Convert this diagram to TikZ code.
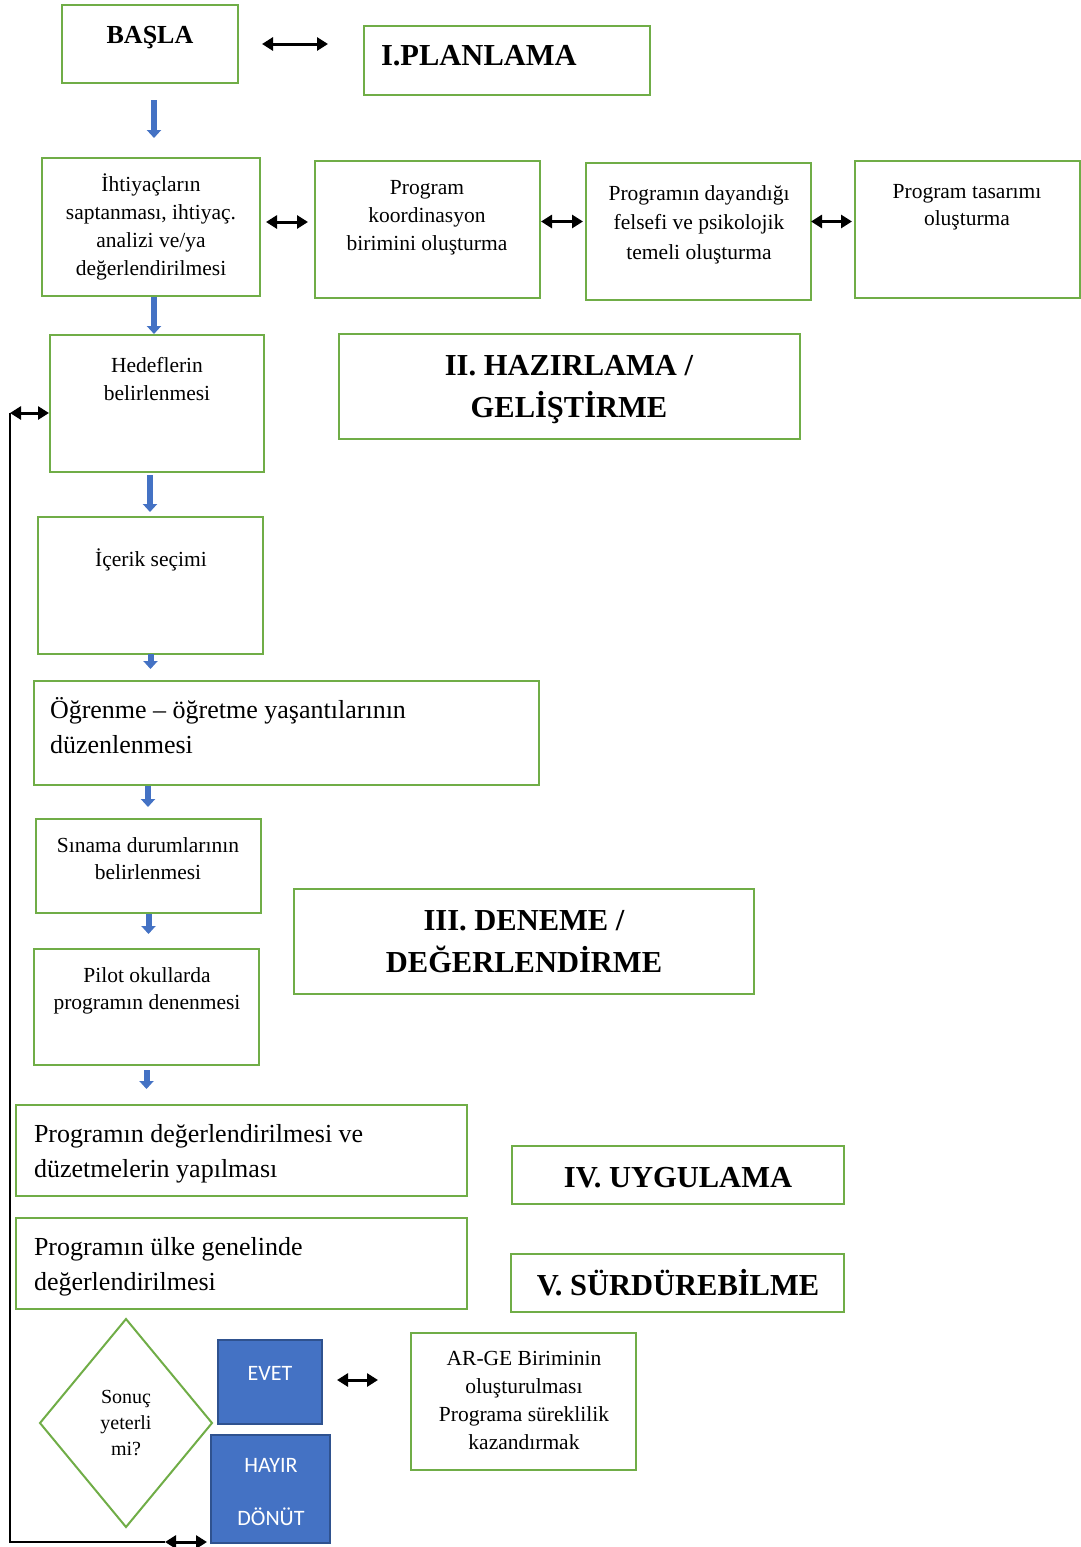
\documentclass[tikz,border=0pt]{standalone}
\usepackage{fontspec}
\setmainfont{Liberation Serif}
\newfontfamily\calibrifont{Carlito}
\usetikzlibrary{arrows.meta,shapes.geometric}
\definecolor{grn}{HTML}{70AD47}
\definecolor{bfill}{HTML}{4472C4}
\definecolor{bdraw}{HTML}{2F528F}
\tikzset{
  box/.style={draw=grn, line width=2pt, inner sep=0pt, outer sep=0pt},
  bluebox/.style={draw=bdraw, fill=bfill, line width=2pt, inner sep=0pt, outer sep=0pt},
  txt/.style={inner sep=0pt, outer sep=0pt, align=center, font=\fontsize{21.5}{28}\selectfont},
  bigtxt/.style={inner sep=0pt, outer sep=0pt, align=left, font=\fontsize{26}{35}\selectfont},
  ttl/.style={inner sep=0pt, outer sep=0pt, align=center, font=\bfseries\fontsize{30.5}{42}\selectfont},
  wtxt/.style={inner sep=0pt, outer sep=0pt, text=white, font=\calibrifont\fontsize{22}{25}\selectfont},
  barrow/.style={draw=bfill, line width=6pt, -{Triangle[width=14pt,length=8pt]}},
  dbl/.style={draw=black, line width=3pt, {Triangle[width=13pt,length=11pt]}-{Triangle[width=13pt,length=11pt]}},
}
\begin{document}
\begin{tikzpicture}[x=1pt,y=-1pt]
\useasboundingbox (0,0) rectangle (1081,1547);

% boxes
\node[box, minimum width=176, minimum height=78] (basla) at (150,44) {};
\node[box, minimum width=286, minimum height=69] (planlama) at (507,60.5) {};
\node[box, minimum width=218, minimum height=138] (ihtiyac) at (151,227) {};
\node[box, minimum width=225, minimum height=137] (koord) at (427.5,229.5) {};
\node[box, minimum width=225, minimum height=137] (dayan) at (698.5,231.5) {};
\node[box, minimum width=225, minimum height=137] (tasarim) at (967.5,229.5) {};
\node[box, minimum width=214, minimum height=137] (hedef) at (157,403.5) {};
\node[box, minimum width=461, minimum height=105] (hazirlama) at (569.5,386.5) {};
\node[box, minimum width=225, minimum height=137] (icerik) at (150.5,585.5) {};
\node[box, minimum width=505, minimum height=104] (ogrenme) at (286.5,733) {};
\node[box, minimum width=225, minimum height=94] (sinama) at (148.5,866) {};
\node[box, minimum width=460, minimum height=105] (deneme) at (524,941.5) {};
\node[box, minimum width=225, minimum height=116] (pilot) at (146.5,1007) {};
\node[box, minimum width=451, minimum height=91] (degerl) at (241.5,1150.5) {};
\node[box, minimum width=332, minimum height=58] (uygulama) at (678,1175) {};
\node[box, minimum width=451, minimum height=91] (ulke) at (241.5,1263.5) {};
\node[box, minimum width=333, minimum height=58] (surdur) at (677.5,1283) {};
\node[box, diamond, minimum width=172, minimum height=208] (karar) at (126,1423) {};
\node[bluebox, minimum width=104, minimum height=84] (evet) at (270,1382) {};
\node[bluebox, minimum width=119, minimum height=108] (hayir) at (270.5,1489) {};
\node[box, minimum width=225, minimum height=137] (arge) at (523.5,1401.5) {};

% texts (multi-line nodes: base anchor = baseline of the last line)
\node[inner sep=0pt, font=\bfseries\fontsize{26}{30}\selectfont, anchor=base] (basla-t) at (150,43) {BAŞLA};
\node[ttl, anchor=base west] (planlama-t) at (381,65) {I.PLANLAMA};
\node[txt, anchor=base] (ihtiyac-t) at (151,275) {İhtiyaçların\\saptanması, ihtiyaç.\\analizi ve/ya\\değerlendirilmesi};
\node[txt, anchor=base] (koord-t) at (427,250) {Program\\koordinasyon\\birimini oluşturma};
\node[txt, anchor=base, font=\fontsize{21.5}{29.5}\selectfont] (dayan-t) at (699,259) {Programın dayandığı\\felsefi ve psikolojik\\temeli oluşturma};
\node[txt, anchor=base, font=\fontsize{21.5}{27}\selectfont] (tasarim-t) at (967,225) {Program tasarımı\\oluşturma};
\node[txt, anchor=base] (hedef-t) at (157,400) {Hedeflerin\\belirlenmesi};
\node[ttl, anchor=base] (hazirlama-t) at (569,417) {II. HAZIRLAMA /\\GELİŞTİRME};
\node[txt, anchor=base] (icerik-t) at (151,566) {İçerik seçimi};
\node[bigtxt, anchor=base west] (ogrenme-t) at (50,753) {Öğrenme – öğretme yaşantılarının\\düzenlenmesi};
\node[txt, anchor=base, font=\fontsize{21.5}{27}\selectfont] (sinama-t) at (148,879) {Sınama durumlarının\\belirlenmesi};
\node[ttl, anchor=base] (deneme-t) at (524,972) {III. DENEME /\\DEĞERLENDİRME};
\node[txt, anchor=base, font=\fontsize{21.5}{27}\selectfont] (pilot-t) at (147,1009) {Pilot okullarda\\programın denenmesi};
\node[bigtxt, anchor=base west] (degerl-t) at (34,1177) {Programın değerlendirilmesi ve\\düzetmelerin yapılması};
\node[ttl, anchor=base] (uygulama-t) at (678,1187) {IV. UYGULAMA};
\node[bigtxt, anchor=base west] (ulke-t) at (34,1290) {Programın ülke genelinde\\değerlendirilmesi};
\node[ttl, anchor=base] (surdur-t) at (678,1295) {V. SÜRDÜREBİLME};
\node[txt, anchor=base, font=\fontsize{20}{26}\selectfont] (karar-t) at (126,1455) {Sonuç\\yeterli\\mi?};
\node[wtxt, anchor=base] (evet-t) at (270,1380) {EVET};
\node[wtxt, anchor=base] (hayir-t) at (271,1472) {HAYIR};
\node[wtxt, anchor=base] (donut-t) at (271,1525) {DÖNÜT};
\node[txt, anchor=base] (arge-t) at (524,1449) {AR-GE Biriminin\\oluşturulması\\Programa süreklilik\\kazandırmak};

% blue arrows
\draw[barrow, shorten <=17pt, shorten >=20pt] ([xshift=4pt]basla.south) -- ([xshift=4pt]basla.south |- ihtiyac.north);
\draw[barrow, shorten <=1pt, shorten >=1pt] ([xshift=3pt]ihtiyac.south) -- ([xshift=3pt]ihtiyac.south |- hedef.north);
\draw[barrow, shorten <=3pt, shorten >=5pt] ([xshift=-7pt]hedef.south) -- ([xshift=-7pt]hedef.south |- icerik.north);
\draw[barrow, shorten <=0pt, shorten >=12pt] (icerik.south) -- (icerik.south |- ogrenme.north);
\draw[barrow, shorten <=1pt, shorten >=12pt] ([xshift=-138.5pt]ogrenme.south) -- ([xshift=-138.5pt]ogrenme.south |- sinama.north);
\draw[barrow, shorten <=1pt, shorten >=15pt] (sinama.south) -- (sinama.south |- pilot.north);
\draw[barrow, shorten <=5pt, shorten >=16pt] (pilot.south) -- (pilot.south |- degerl.north);

% double arrows
\draw[dbl, shorten <=24pt, shorten >=36pt] (basla.east) -- (basla.east -| planlama.west);
\draw[dbl, shorten <=6pt, shorten >=7pt] ([yshift=5pt]ihtiyac.east) -- ([yshift=5pt]ihtiyac.east -| koord.west);
\draw[dbl, shorten <=1pt, shorten >=3pt] ([yshift=8pt]koord.east) -- ([yshift=8pt]koord.east -| dayan.west);
\draw[dbl, shorten <=0pt, shorten >=3pt] ([yshift=10pt]dayan.east) -- ([yshift=10pt]dayan.east -| tasarim.west);
\draw[dbl, shorten <=15pt, shorten >=33pt] ([yshift=2pt]evet.east) -- ([yshift=2pt]evet.east -| arge.west);

% feedback loop
\coordinate (fbtop) at (10,413);
\coordinate (fbbot) at (10,1542);
\coordinate (fbmid) at (165,1542);
\draw[dbl, shorten >=1pt] (fbtop) -- (fbtop -| hedef.west);
\draw[line width=1.5pt] (fbtop) -- (fbbot) -- (fbmid);
\draw[dbl, shorten >=4pt] (fbmid) -- (fbmid -| hayir.west);
\end{tikzpicture}
\end{document}
